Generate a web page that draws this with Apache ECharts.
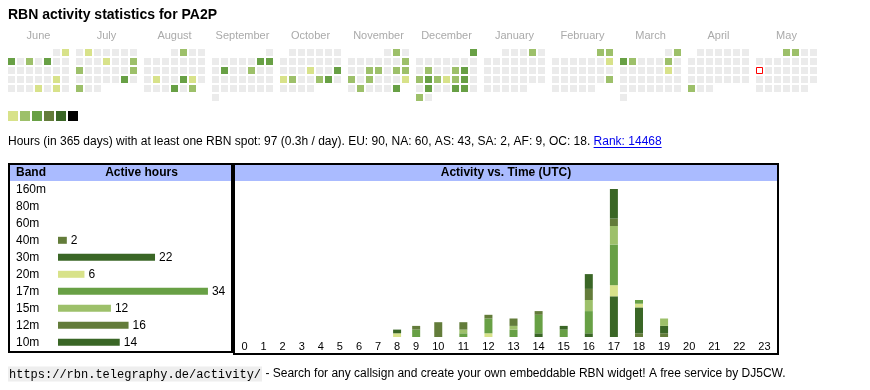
<!DOCTYPE html>
<html><head><meta charset="utf-8">
<script src="https://cdn.jsdelivr.net/npm/echarts@6/dist/echarts.min.js"></script>
<style>html,body{margin:0;padding:0;background:#fff}#c{width:870px;height:390px}</style>
</head><body><div id="c"></div>
<script>
// ---------------- data ----------------
const callsign = 'PA2P';
const firstYear = 2024, firstMonth = 6;
const monthNames = ['June','July','August','September','October','November','December','January','February','March','April','May'];
const activeDates = [
  '2024-06-02','2024-06-03','2024-06-05','2024-06-07','2024-06-22','2024-06-27','2024-06-29',
  '2024-07-02','2024-07-11','2024-07-14','2024-07-15','2024-07-21','2024-07-27','2024-07-29',
  '2024-08-02','2024-08-20','2024-08-23','2024-08-24','2024-08-29','2024-08-31',
  '2024-09-07','2024-09-08','2024-09-10','2024-09-13',
  '2024-10-17','2024-10-20','2024-10-21','2024-10-22','2024-10-25','2024-10-26',
  '2024-11-02','2024-11-10','2024-11-13','2024-11-14','2024-11-16','2024-11-17','2024-11-18','2024-11-20','2024-11-24','2024-11-26','2024-11-30',
  '2024-12-01','2024-12-10','2024-12-13','2024-12-14','2024-12-16','2024-12-17','2024-12-18','2024-12-19','2024-12-20','2024-12-21','2024-12-24','2024-12-27','2024-12-28','2024-12-30',
  '2025-01-04',
  '2025-02-01','2025-02-02','2025-02-09','2025-02-23',
  '2025-03-02','2025-03-03','2025-03-04','2025-03-08','2025-03-15',
  '2025-04-28',
  '2025-05-01','2025-05-02'
];
const activeLevels = [
  1,3,2,3,1,1,1,
  1,1,2,2,2,3,2,
  2,1,3,1,3,2,
  3,3,3,2,
  1,3,1,2,2,3,
  2,2,2,2,2,2,2,2,1,2,3,
  3,2,2,3,2,3,2,1,2,3,3,3,3,2,
  2,
  2,2,1,2,
  2,3,2,2,1,
  2,
  2,2
];
const markedDate = '2025-05-12';

const bands = ['160m','80m','60m','40m','30m','20m','17m','15m','12m','10m'];
const bandHours = [0,0,0,2,22,6,34,12,16,14];

const hourLabels = ['0','1','2','3','4','5','6','7','8','9','10','11','12','13','14','15','16','17','18','19','20','21','22','23'];
const hours160m = [0,0,0,0,0,0,0,0, 0,0,0,0,0,0,0,0, 0,0,0,0,0,0,0,0];
const hours80m  = [0,0,0,0,0,0,0,0, 0,0,0,0,0,0,0,0, 0,0,0,0,0,0,0,0];
const hours60m  = [0,0,0,0,0,0,0,0, 0,0,0,0,0,0,0,0, 0,0,0,0,0,0,0,0];
const hours40m  = [0,0,0,0,0,0,0,0, 0,0,0,0,0,0,0,0, 0,0,1,1,0,0,0,0];
const hours30m  = [0,0,0,0,0,0,0,0, 0,0,0,0,0,0,1,0, 1,11,7,2,0,0,0,0];
const hours20m  = [0,0,0,0,0,0,0,0, 1,0,0,0,1,0,0,0, 0,3,1,0,0,0,0,0];
const hours17m  = [0,0,0,0,0,0,0,0, 0,2,0,1,4,2,5,2, 6,11,1,0,0,0,0,0];
const hours15m  = [0,0,0,0,0,0,0,0, 0,0,0,1,0,1,0,0, 3,5,0,2,0,0,0,0];
const hours12m  = [0,0,0,0,0,0,0,0, 0,1,4,2,1,2,1,0, 3,2,0,0,0,0,0,0];
const hours10m  = [0,0,0,0,0,0,0,0, 1,0,0,0,0,0,0,1, 4,8,0,0,0,0,0,0];

const statDays = 365, statHours = 97, statPerDay = '0.3';
const continents = ['EU','NA','AS','SA','AF','OC'];
const continentHours = [90,60,43,2,9,18];
const rank = 14468;

// ---------------- styling ----------------
const FONT = '"Liberation Sans", Arial, sans-serif';
const MONO = '"Liberation Mono", "DejaVu Sans Mono", monospace';
const levelColors = ['#ebebeb','#d8e28a','#9dc06a','#68a045','#637c3a','#3a6626','#000000'];
const bandColors = ['#9dc06a','#68a045','#d8e28a','#637c3a','#3a6626','#d8e28a','#68a045','#9dc06a','#637c3a','#3a6626'];
const headerBg = '#aabbff';

// ---------------- calendar layout ----------------
const cellPitch = 9, monthGap = 5, monthPitch = 7 * cellPitch + monthGap;
const levelByDate = {};
activeDates.forEach((d, i) => { levelByDate[d] = activeLevels[i]; });
const calData = [];
let markData = [];
for (let m = 0; m < 12; m++) {
  const y = firstYear + Math.floor((firstMonth - 1 + m) / 12);
  const mo = (firstMonth - 1 + m) % 12;
  const nd = new Date(Date.UTC(y, mo + 1, 0)).getUTCDate();
  const off = (new Date(Date.UTC(y, mo, 1)).getUTCDay() + 6) % 7;
  for (let d = 1; d <= nd; d++) {
    const key = y + '-' + String(mo + 1).padStart(2, '0') + '-' + String(d).padStart(2, '0');
    const idx = off + d - 1;
    const pt = [m * monthPitch + (idx % 7) * cellPitch, Math.floor(idx / 7), levelByDate[key] || 0];
    calData.push(pt);
    if (key === markedDate) markData = [pt];
  }
}
const calMax = 11 * monthPitch + 6 * cellPitch;
const monthCenters = monthNames.map((_, i) => i * monthPitch + 3 * cellPitch);

// ---------------- activity layout (table-like column widths) ----------------
const colW = hourLabels.map(l => 13 + 6 * l.length);
const hourCenters = [];
let acc = 0;
colW.forEach(w => { hourCenters.push(acc + w / 2); acc += w; });
const hourTotalW = acc;
const bandSeriesData = [hours160m, hours80m, hours60m, hours40m, hours30m, hours20m, hours17m, hours15m, hours12m, hours10m];

// ---------------- text measurement ----------------
const mctx = document.createElement('canvas').getContext('2d');
mctx.font = '12px ' + FONT;
const statsText = 'Hours (in ' + statDays + ' days) with at least one RBN spot: ' + statHours + ' (' + statPerDay + 'h / day). ' +
  continents.map((c, i) => c + ': ' + continentHours[i]).join(', ') + '. ';
const linkText = 'Rank: ' + rank;
const statsW = mctx.measureText(statsText).width;
const linkW = mctx.measureText(linkText).width;

const chart = echarts.init(document.getElementById('c'), null, { renderer: 'canvas', width: 870, height: 390 });

const hiddenAxis = { show: true, axisLine: { show: false }, axisTick: { show: false }, splitLine: { show: false } };

const series = [
  { type: 'scatter', xAxisIndex: 0, yAxisIndex: 0, symbol: 'rect', symbolSize: 7, silent: true,
    data: calData, itemStyle: { color: p => levelColors[p.value[2]], opacity: 1 } },
  { type: 'scatter', xAxisIndex: 0, yAxisIndex: 0, symbol: 'rect', symbolSize: 6, silent: true, z: 5,
    data: markData, itemStyle: { color: '#ffffff', borderColor: '#ff0000', borderWidth: 1, opacity: 1 } },
  { type: 'bar', xAxisIndex: 1, yAxisIndex: 1, barWidth: 7, silent: true,
    data: bandHours.map((v, i) => ({ value: v, itemStyle: { color: bandColors[i] } })),
    label: { show: true, position: 'right', distance: 4, formatter: p => (p.value > 0 ? String(p.value) : ''),
      fontSize: 12, fontFamily: FONT, color: '#000' } }
];
// stacked hour bars: value in column 0 (stacked, y), hour position in column 1 (x)
bands.forEach((b, i) => {
  series.push({ type: 'bar', name: b, stack: 'hours', xAxisIndex: 2, yAxisIndex: 2, barWidth: 8, silent: true,
    encode: { x: 1, y: 0 },
    data: bandSeriesData[i].map((v, h) => [v, hourCenters[h]]),
    itemStyle: { color: bandColors[i] } });
});

const graphics = [
  { type: 'text', silent: true, style: { x: 8, y: 15.5, text: 'RBN activity statistics for ' + callsign,
      font: 'bold 14px ' + FONT, fill: '#000', textVerticalAlign: 'middle', verticalAlign: 'middle' } }
];
levelColors.slice(1).forEach((c, i) => {
  graphics.push({ type: 'rect', silent: true, shape: { x: 8 + i * 12, y: 111, width: 10, height: 10 }, style: { fill: c } });
});
graphics.push(
  { type: 'text', silent: true, style: { x: 8, y: 142, text: statsText, font: '12px ' + FONT, fill: '#000',
      textVerticalAlign: 'middle', verticalAlign: 'middle' } },
  { type: 'text', silent: true, style: { x: 8 + statsW, y: 142, text: linkText, font: '12px ' + FONT, fill: '#0000ee',
      textVerticalAlign: 'middle', verticalAlign: 'middle' } },
  { type: 'line', silent: true, shape: { x1: 8 + statsW, y1: 147.5, x2: 8 + statsW + linkW, y2: 147.5 },
      style: { stroke: '#0000ee', lineWidth: 1 } },
  // headers
  { type: 'rect', silent: true, shape: { x: 10, y: 165, width: 221, height: 16 }, style: { fill: headerBg } },
  { type: 'rect', silent: true, shape: { x: 235, y: 165, width: 542, height: 16 }, style: { fill: headerBg } },
  { type: 'text', silent: true, style: { x: 16, y: 173, text: 'Band', font: 'bold 12px ' + FONT, fill: '#000',
      textVerticalAlign: 'middle', verticalAlign: 'middle' } },
  { type: 'text', silent: true, style: { x: 141.5, y: 173, text: 'Active hours', font: 'bold 12px ' + FONT, fill: '#000',
      textAlign: 'center', align: 'center', textVerticalAlign: 'middle', verticalAlign: 'middle' } },
  { type: 'text', silent: true, style: { x: 506, y: 173, text: 'Activity vs. Time (UTC)', font: 'bold 12px ' + FONT, fill: '#000',
      textAlign: 'center', align: 'center', textVerticalAlign: 'middle', verticalAlign: 'middle' } },
  // boxes
  { type: 'rect', silent: true, z: 10, shape: { x: 9, y: 164, width: 223, height: 188 }, style: { fill: null, stroke: '#000', lineWidth: 2 } },
  { type: 'rect', silent: true, z: 10, shape: { x: 234, y: 164, width: 544, height: 190 }, style: { fill: null, stroke: '#000', lineWidth: 2 } },
  // footer
  { type: 'text', silent: true, style: { x: 8, y: 374,
      text: '{code|https://rbn.telegraphy.de/activity/}{t| - Search for any callsign and create your own embeddable RBN widget! A free service by DJ5CW.}',
      rich: {
        code: { fontFamily: MONO, fontSize: 12, color: '#333', backgroundColor: '#eeeeee', padding: [2, 1, 1, 1] },
        t: { fontFamily: FONT, fontSize: 12, color: '#000' }
      },
      textVerticalAlign: 'middle', verticalAlign: 'middle' } }
);

chart.setOption({
  animation: false,
  backgroundColor: '#ffffff',
  grid: [
    { left: 11.5, top: 52.5, width: calMax, height: 45, outerBoundsMode: 'none', containLabel: false },
    { left: 58, top: 180.8, width: 176.4, height: 170, outerBoundsMode: 'none', containLabel: false },
    { left: 235, top: 189, width: 542, height: 148, outerBoundsMode: 'none', containLabel: false }
  ],
  xAxis: [
    Object.assign({}, hiddenAxis, { gridIndex: 0, type: 'value', min: 0, max: calMax, position: 'top',
      axisLabel: { customValues: monthCenters, formatter: v => monthNames[Math.round((v - 3 * cellPitch) / monthPitch)],
        color: '#aaaaaa', fontSize: 11, fontFamily: FONT, margin: 16.5, verticalAlign: 'middle', hideOverlap: false } }),
    Object.assign({}, hiddenAxis, { gridIndex: 1, type: 'value', min: 0, max: 40, axisLabel: { show: false } }),
    Object.assign({}, hiddenAxis, { gridIndex: 2, type: 'value', min: 0, max: hourTotalW,
      axisLabel: { customValues: hourCenters, formatter: v => {
          let best = 0; hourCenters.forEach((c, i) => { if (Math.abs(c - v) < Math.abs(hourCenters[best] - v)) best = i; });
          return hourLabels[best]; },
        color: '#000', fontSize: 11, fontFamily: FONT, margin: 4, hideOverlap: false } })
  ],
  yAxis: [
    Object.assign({}, hiddenAxis, { gridIndex: 0, type: 'value', min: 0, max: 5, inverse: true, axisLabel: { show: false } }),
    Object.assign({}, hiddenAxis, { gridIndex: 1, type: 'category', data: bands, inverse: true,
      axisLabel: { interval: 0, align: 'left', margin: 42, color: '#000', fontSize: 12, fontFamily: FONT } }),
    Object.assign({}, hiddenAxis, { gridIndex: 2, type: 'value', min: 0, max: 40, axisLabel: { show: false } })
  ],
  graphic: graphics,
  series: series
});
</script>
</body></html>
